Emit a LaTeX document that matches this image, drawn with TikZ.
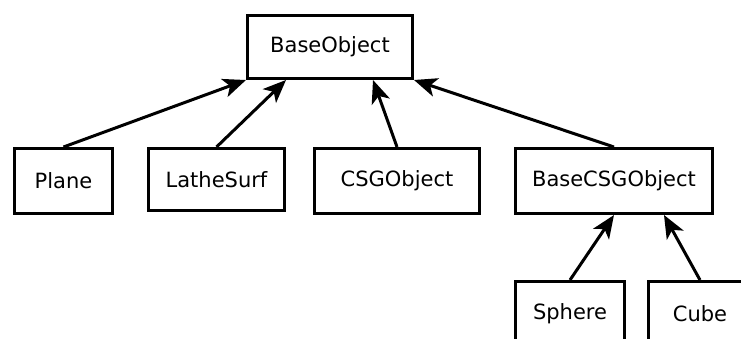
\documentclass[tikz,border=0pt]{standalone}
\usepackage{fontspec}
\setmainfont{DejaVu Sans}
\usepackage{tikz}
\usetikzlibrary{arrows.meta,positioning}
\tikzset{
    %Define standard arrow tip
    >={Stealth[length=23pt,width=19pt,inset=6pt]},
    %Define style for class boxes
    classbox/.style={
           rectangle,
           draw=black, line width=3pt,
           fill=white,
           inner sep=0pt,
           font=\fontsize{21}{25}\selectfont,
           text centered},
    % Define arrow style
    inherit/.style={
           ->,
           line width=3pt}
}
\begin{document}
\begin{tikzpicture}[x=1pt,y=-1pt]
\useasboundingbox (0,0) rectangle (741,338);
 %nodes
\node[classbox, minimum width=165pt, minimum height=63pt] (base) at (330,47) {BaseObject};
\node[classbox, minimum width=98pt, minimum height=65pt] (plane) at (63.5,181) {Plane};
\node[classbox, minimum width=136pt, minimum height=62pt] (lathe) at (216.5,179.5) {LatheSurf};
\node[classbox, minimum width=165pt, minimum height=65pt] (csg) at (397,181) {CSGObject};
\node[classbox, minimum width=197pt, minimum height=65pt] (bcsg) at (614,181) {BaseCSGObject};
\node[classbox, minimum width=109pt, minimum height=65pt] (sphere) at (570,314) {Sphere};
\node[classbox, minimum width=103pt, minimum height=65pt] (cube) at (700,314) {Cube};
 %edges
\draw[inherit] (plane.north) -- (base.south west);
\draw[inherit] (lathe.north) -- ([xshift=-44pt]base.south);
\draw[inherit] (csg.north) -- ([xshift=43pt]base.south);
\draw[inherit] (bcsg.north) -- (base.south east);
\draw[inherit] (sphere.north) -- (bcsg.south);
\draw[inherit] (cube.north) -- ([xshift=50pt]bcsg.south);
\end{tikzpicture}
\end{document}
